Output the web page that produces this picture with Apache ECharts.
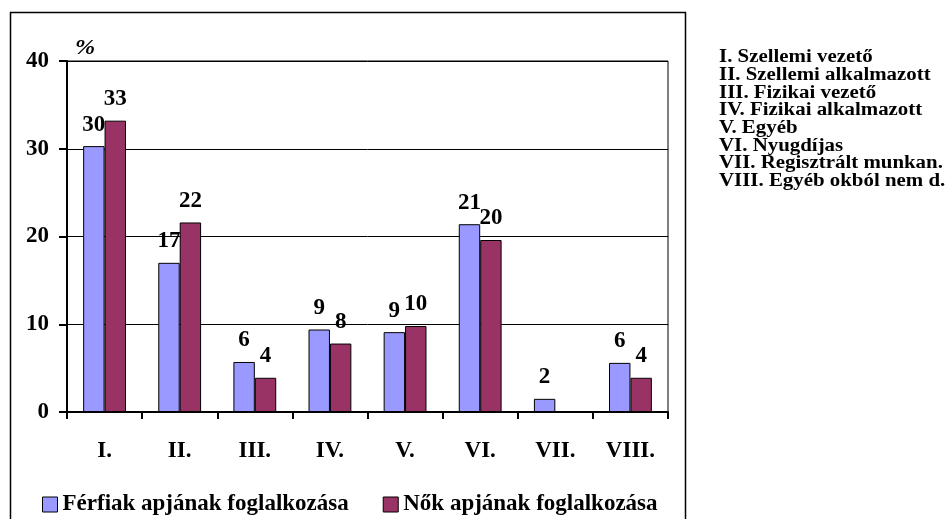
<!DOCTYPE html>
<html>
<head>
<meta charset="utf-8">
<script src="https://cdn.jsdelivr.net/npm/echarts@6/dist/echarts.min.js"></script>
<style>html,body{margin:0;padding:0;background:#fff}#c{width:950px;height:519px}</style>
</head>
<body>
<div id="c"></div>
<script>
const categories = ['I.', 'II.', 'III.', 'IV.', 'V.', 'VI.', 'VII.', 'VIII.'];
const seriesNames = ['Férfiak apjának foglalkozása', 'Nők apjának foglalkozása'];
const ferfiak = [30.3, 17.0, 5.7, 9.4, 9.1, 21.4, 1.5, 5.6];
const nok = [33.2, 21.6, 3.9, 7.8, 9.8, 19.6, 0, 3.9];
const yTicks = { min: 0, max: 40, interval: 10 };
const sideNotes = [
  'I. Szellemi vezető',
  'II. Szellemi alkalmazott',
  'III. Fizikai vezető',
  'IV. Fizikai alkalmazott',
  'V. Egyéb',
  'VI. Nyugdíjas',
  'VII. Regisztrált munkan.',
  'VIII. Egyéb okból nem d.'
];
const unitLabel = '%';

const FONT = 'Liberation Serif';
const chart = echarts.init(document.getElementById('c'));

const labelCfg = {
  show: true,
  position: 'top',
  distance: 10,
  color: '#000',
  fontFamily: FONT,
  fontWeight: 'bold',
  fontSize: 23,
  formatter: p => (p.value ? String(Math.round(p.value)) : '')
};

const graphics = [
  { type: 'rect', shape: { x: 10.5, y: 12.5, width: 675, height: 520 },
    style: { fill: 'none', stroke: '#000', lineWidth: 1.5 }, silent: true },
  { type: 'text', x: 75, y: 48, scaleX: 1.1,
    style: { text: unitLabel, fill: '#000', fontFamily: FONT, fontStyle: 'italic',
      fontWeight: 'bold', fontSize: 22, verticalAlign: 'middle' } }
];
sideNotes.forEach((t, i) => {
  graphics.push({ type: 'text', x: 719, y: 57.5 + i * 17.7, scaleX: 1.16,
    style: { text: t, fill: '#000', fontFamily: FONT, fontWeight: 'bold', fontSize: 18,
      verticalAlign: 'middle' } });
});

chart.setOption({
  animation: false,
  backgroundColor: '#fff',
  grid: { left: 67, right: 282, top: 61, bottom: 107, show: true,
    borderColor: '#000', borderWidth: 1, backgroundColor: 'transparent' },
  legend: {
    left: 37, top: 488, itemWidth: 15, itemHeight: 15, itemGap: 34, icon: 'rect',
    itemStyle: { borderColor: '#000', borderWidth: 1 },
    textStyle: { color: '#000', fontFamily: FONT, fontWeight: 'bold', fontSize: 23 }
  },
  xAxis: {
    type: 'category', data: categories,
    axisLine: { lineStyle: { color: '#000', width: 2 } },
    axisTick: { show: true, length: 7, lineStyle: { color: '#000', width: 2 } },
    axisLabel: { color: '#000', fontFamily: FONT, fontWeight: 'bold', fontSize: 23, margin: 28 }
  },
  yAxis: {
    type: 'value', min: yTicks.min, max: yTicks.max, interval: yTicks.interval,
    axisLine: { show: true, lineStyle: { color: '#000', width: 2 } },
    axisTick: { show: true, length: 8, lineStyle: { color: '#000', width: 2 } },
    axisLabel: { color: '#000', fontFamily: FONT, fontWeight: 'bold', fontSize: 23, margin: 18 },
    splitLine: { lineStyle: { color: '#000', width: 1 } }
  },
  series: [
    { name: seriesNames[0], type: 'bar', data: ferfiak, barGap: '0%', barCategoryGap: '43%',
      itemStyle: { color: '#9999FF', borderColor: '#000', borderWidth: 1 }, label: labelCfg },
    { name: seriesNames[1], type: 'bar', data: nok,
      itemStyle: { color: '#993366', borderColor: '#000', borderWidth: 1 }, label: labelCfg }
  ],
  graphic: graphics
});
</script>
</body>
</html>
